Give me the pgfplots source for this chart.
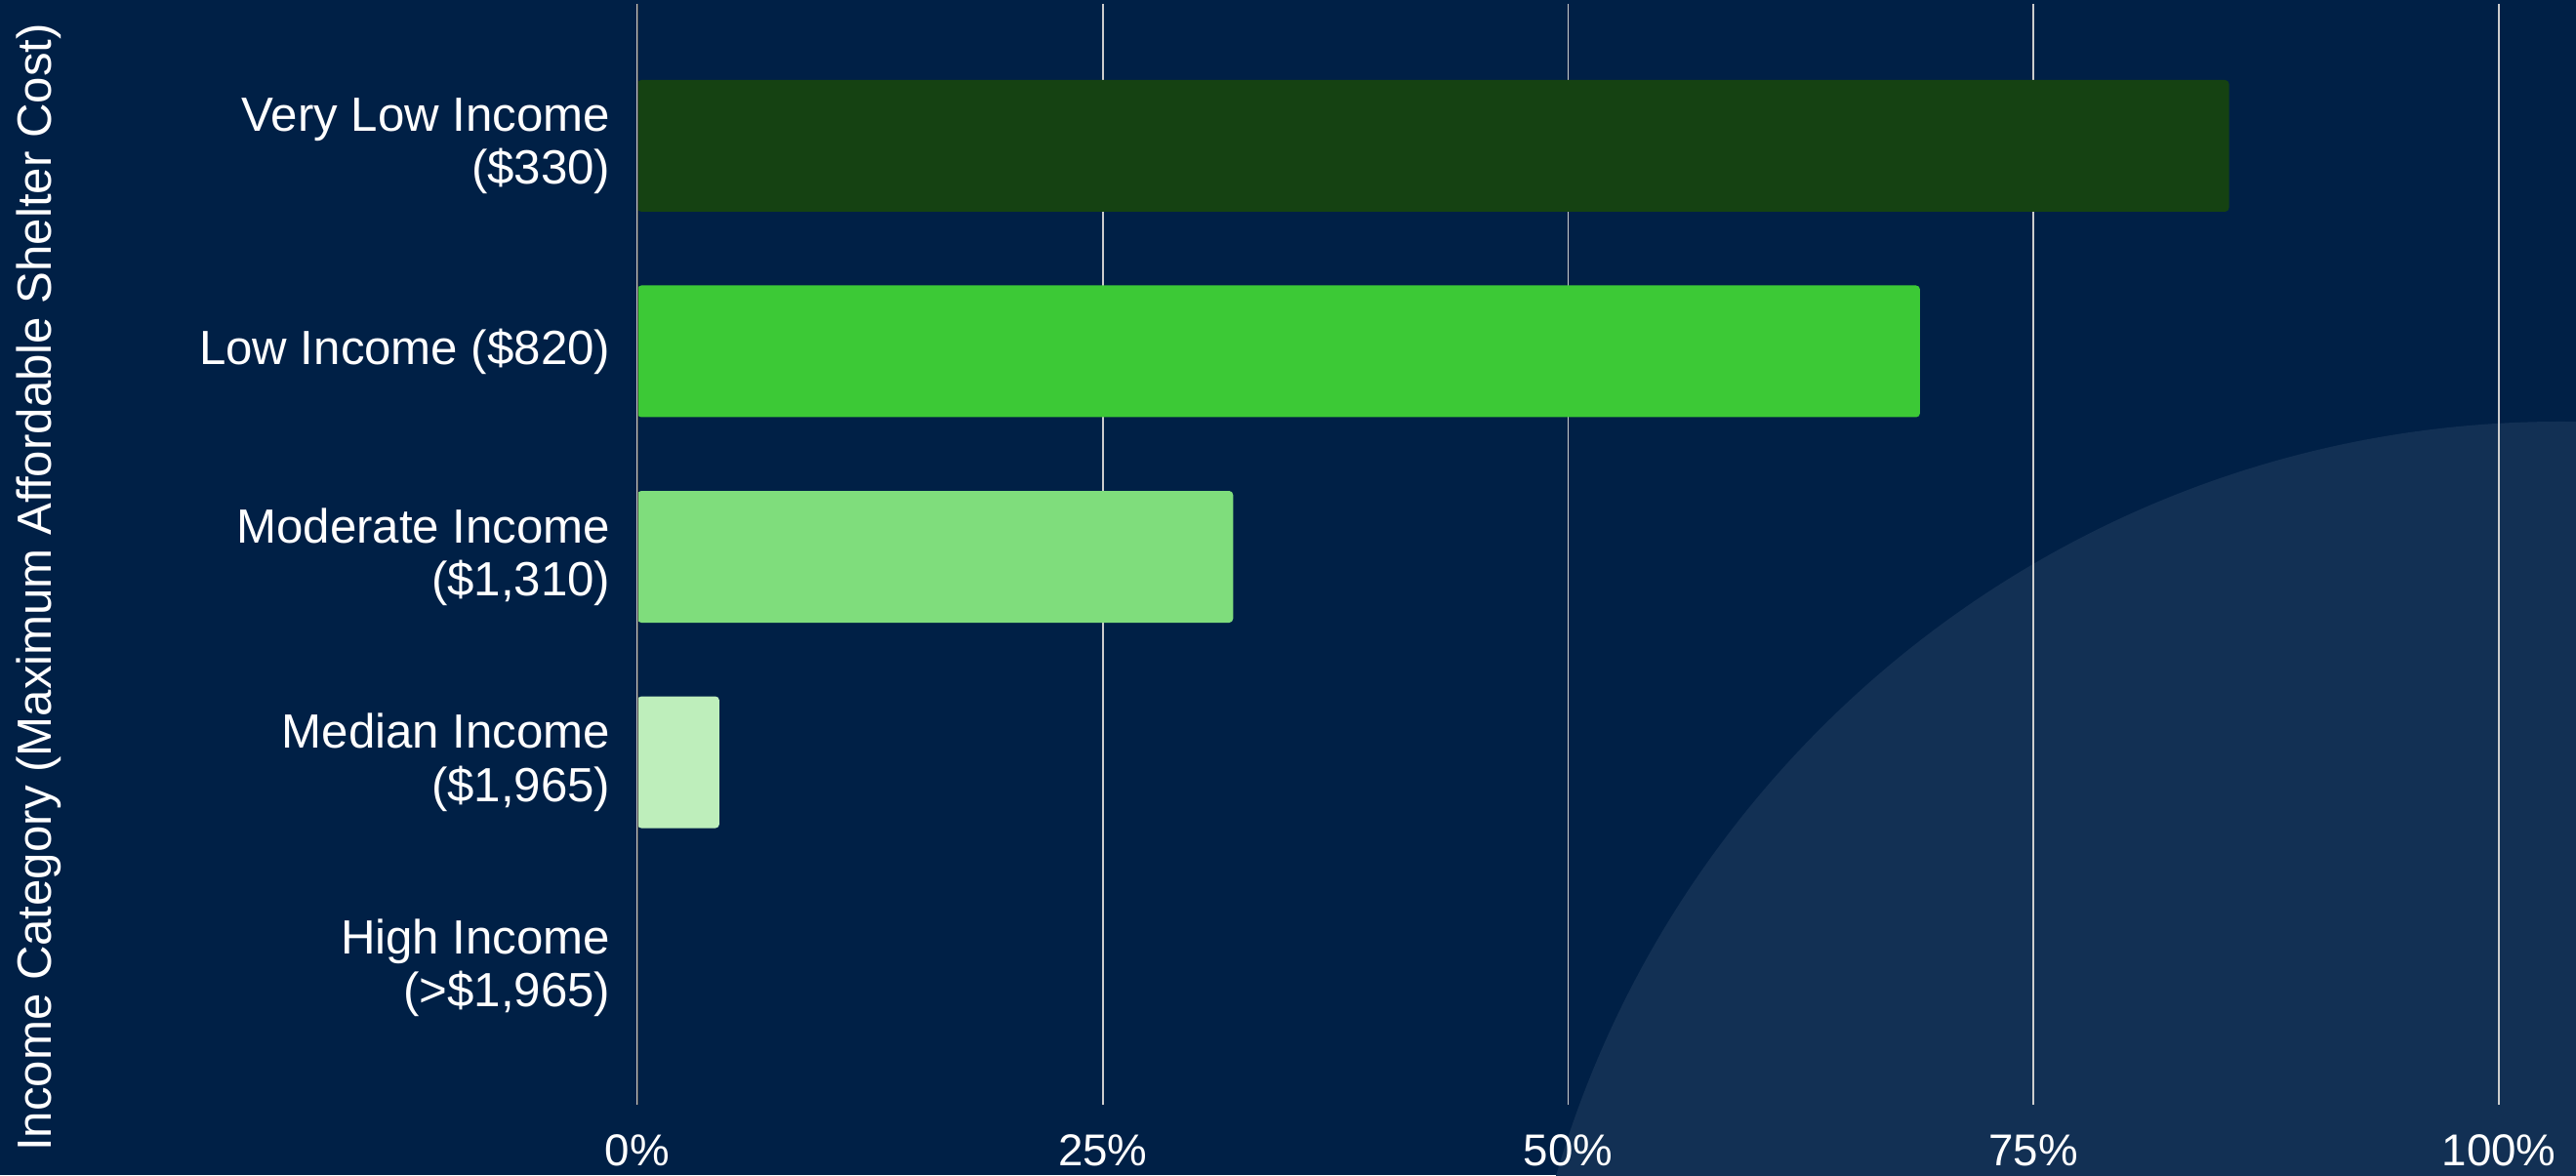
\documentclass[border=0pt]{standalone}
\usepackage{fontspec}
\setmainfont{Liberation Sans}
\usepackage{pgfplots}
\pgfplotsset{compat=1.18}
\definecolor{bg}{HTML}{002046}
\definecolor{circ}{HTML}{123054}
\definecolor{c1}{HTML}{154212}
\definecolor{c2}{HTML}{3CC936}
\definecolor{c3}{HTML}{7FDD7C}
\definecolor{c4}{HTML}{BEEEBB}
\definecolor{c5}{HTML}{E0F7DF}
\definecolor{gridc}{HTML}{CCCCCC}
\definecolor{axc}{HTML}{444444}
\begin{document}
\begin{tikzpicture}
\begin{scope}
\clip (0,0) rectangle (263.9mm,120.4mm);
\fill[bg] (0,0) rectangle (263.9mm,120.4mm);
\fill[circ] (262.3mm,-29.9mm) circle (107.1mm);
\end{scope}
\begin{axis}[
  at={(65.3mm,7.2mm)}, anchor=south west,
  scale only axis, width=190.7mm, height=112.8mm,
  xmin=0, xmax=100, ymin=-0.691, ymax=4.667, y dir=reverse,
  xbar, bar width=13.5mm, bar shift=0pt,
  axis line style={draw=none},
  major tick length=0pt,
  xtick={0,25,50,75,100},
  xmajorgrids, grid style={gridc, line width=0.5pt},
  ytick={0,1,2,3,4},
  yticklabels={{Very Low Income\\(\$330)}, {Low Income (\$820)}, {Moderate Income\\(\$1,310)}, {Median Income\\(\$1,965)}, {High Income\\(>\$1,965)}},
  yticklabel style={align=right, font=\fontsize{14}{15.5}\selectfont, text=white, inner sep=0pt, xshift=-2.7mm},
  xticklabel={\pgfmathprintnumber{\tick}\%},
  xticklabel style={font=\fontsize{13}{15}\selectfont, text=white, inner sep=0pt, yshift=-3mm},
  /pgf/number format/assume math mode=true,
]
\addplot[fill=c1, draw=none, rounded corners=0.4mm] coordinates {(85.5,0)};
\addplot[fill=c2, draw=none, rounded corners=0.4mm] coordinates {(68.9,1)};
\addplot[fill=c3, draw=none, rounded corners=0.4mm] coordinates {(32.0,2)};
\addplot[fill=c4, draw=none, rounded corners=0.4mm] coordinates {(4.4,3)};
\addplot[fill=c5, draw=none] coordinates {(0,4)};
\draw[axc, line width=0.5pt] (axis cs:0,-0.691) -- (axis cs:0,4.667);
\end{axis}
\node[rotate=90, text=white, font=\fontsize{14}{16}\selectfont] at (4.0mm,60.2mm) {Income Category (Maximum Affordable Shelter Cost)};
\pgfresetboundingbox
\path[use as bounding box] (0,0) rectangle (263.9mm,120.4mm);
\end{tikzpicture}
\end{document}
